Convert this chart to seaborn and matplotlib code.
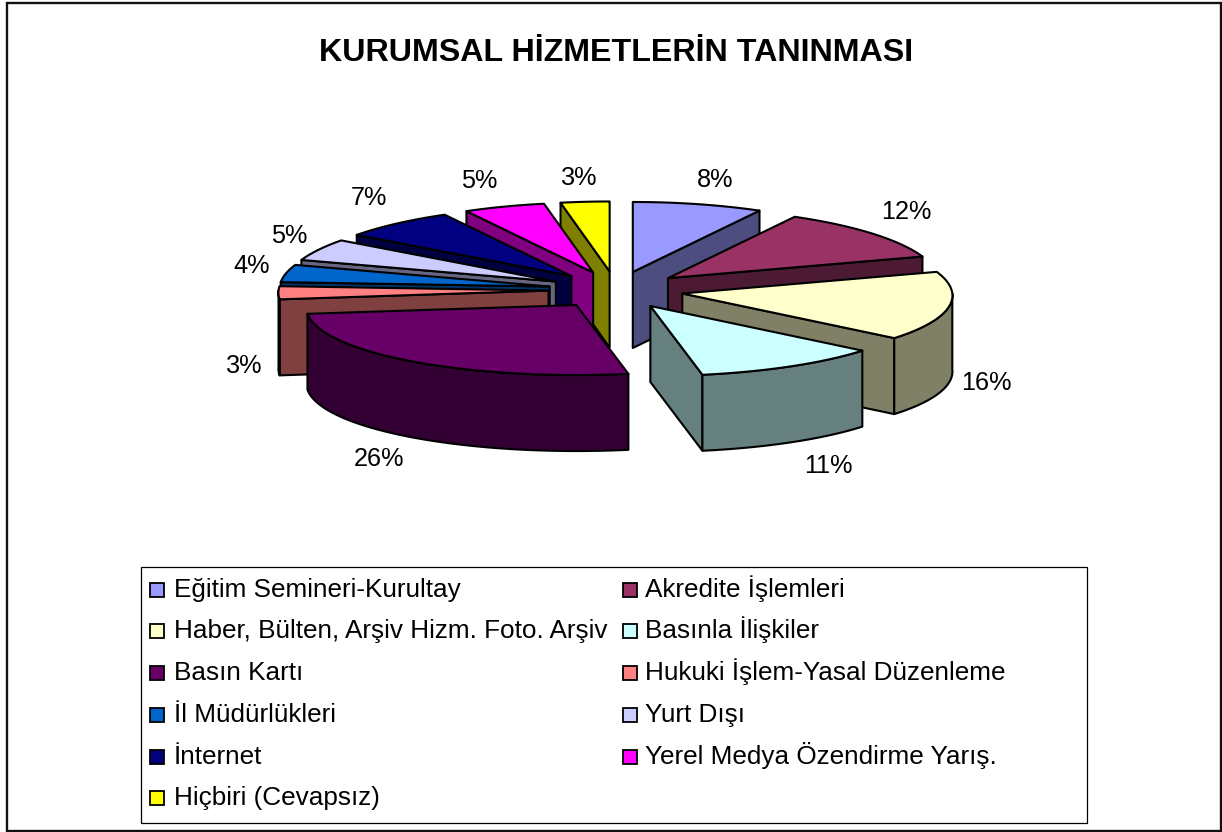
import numpy as np
import matplotlib
matplotlib.use("Agg")
import matplotlib.pyplot as plt
from matplotlib.patches import Polygon, Rectangle
import seaborn as sns

sns.set_theme(style="white")
plt.rcParams['font.family'] = ['Liberation Sans', 'DejaVu Sans']

# Data
title = "KURUMSAL HİZMETLERİN TANINMASI"
labels = ["Eğitim Semineri-Kurultay", "Akredite İşlemleri",
          "Haber, Bülten, Arşiv Hizm. Foto. Arşiv", "Basınla İlişkiler",
          "Basın Kartı", "Hukuki İşlem-Yasal Düzenleme", "İl Müdürlükleri",
          "Yurt Dışı", "İnternet", "Yerel Medya Özendirme Yarış.",
          "Hiçbiri (Cevapsız)"]
values = [8, 12, 16, 11, 26, 3, 4, 5, 7, 5, 3]
colors = ["#9999FF", "#993366", "#FFFFCC", "#CCFFFF", "#660066", "#FF8080",
          "#0066CC", "#CCCCFF", "#000080", "#FF00FF", "#FFFF00"]

# Pie geometry in pixels
CX, CY = 616, 290
RX, RY = 270, 70
PERSPECTIVE = 8  # front of the pie is a bit wider than the back
EXPLODE_X, EXPLODE_Y = 67.5, 18.6
DEPTH = 76
LW = 1.5

# Where the percent labels sit
label_x = [715, 906, 986, 828, 379, 244, 252, 289, 369, 479, 579]
label_y = [180, 212, 383, 466, 459, 366, 266, 236, 198, 181, 178]

# Legend grid (baselines of the rows)
LEGEND_COL_X = [150, 623]
LEGEND_ROW_Y = [597, 638, 680, 722, 764, 805]
LEGEND_TEXT_GAP = [24, 22]
SWATCH = 14

palette = sns.color_palette(colors)

fig = plt.figure(figsize=(12.22, 8.32), dpi=100)
ax = fig.add_axes([0, 0, 1, 1])
ax.set_xlim(0, 1222)
ax.set_ylim(832, 0)
ax.axis("off")

# Outer frame
ax.add_patch(Rectangle((6.5, 3), 1214.5, 827.5, fill=False, ec="#111111", lw=1.7))


def rim(ox, oy, a0, a1):
    # angles in degrees, clockwise from the top
    t = np.radians(np.linspace(a0, a1, 60))
    rx = RX - PERSPECTIVE * np.cos(t)
    return np.column_stack([ox + rx * np.sin(t), oy - RY * np.cos(t)])


def draw_slice(start, end, top, side):
    mid = np.radians((start + end) / 2)
    ox = CX + EXPLODE_X * np.sin(mid)
    oy = CY - EXPLODE_Y * np.cos(mid)
    apex = np.array([[ox, oy]])
    down = np.array([0, DEPTH])
    style = dict(ec="black", lw=LW, joinstyle="round")

    # cut faces that point towards the viewer
    for ang, show in ((start, np.sin(np.radians(start)) < -1e-9),
                      (end, np.sin(np.radians(end)) > 1e-9)):
        if show:
            p = rim(ox, oy, ang, ang)[:1]
            face = np.vstack([apex, p, p + down, apex + down])
            ax.add_patch(Polygon(face, fc=side, **style))

    # outer wall, front half only
    lo, hi = max(start, 90), min(end, 270)
    if lo < hi:
        arc = rim(ox, oy, lo, hi)
        ax.add_patch(Polygon(np.vstack([arc, arc[::-1] + down]), fc=side, **style))

    ax.add_patch(Polygon(np.vstack([apex, rim(ox, oy, start, end)]), fc=top, **style))


edges = np.concatenate([[0], np.cumsum(values)]) * 3.6
darker = [tuple(c * 0.5 for c in col) for col in palette]

# back to front: left side from the top downwards, then right side, big slice last
order = [10, 9, 8, 7, 6, 5, 0, 1, 2, 3, 4]
for i in order:
    draw_slice(edges[i], edges[i + 1], palette[i], darker[i])

for v, x, y in zip(values, label_x, label_y):
    ax.text(x, y, f"{v}%", ha="center", va="center", fontsize=18.2, color="black")

ax.text(616, 53, title, ha="center", va="center", fontsize=23.2,
        fontweight="bold", color="black")

# Legend box, entries read across the rows
ax.add_patch(Rectangle((140.5, 567), 946.5, 256, fc="white", ec="black", lw=0.9))
for i, (lab, col) in enumerate(zip(labels, palette)):
    row, c = divmod(i, 2)
    x, y = LEGEND_COL_X[c], LEGEND_ROW_Y[row]
    ax.add_patch(Rectangle((x, y - SWATCH), SWATCH, SWATCH, fc=col, ec="black", lw=1.3))
    ax.text(x + LEGEND_TEXT_GAP[c], y, lab, ha="left", va="baseline", fontsize=18.8, color="black")

fig.savefig("out.png", dpi=100)
